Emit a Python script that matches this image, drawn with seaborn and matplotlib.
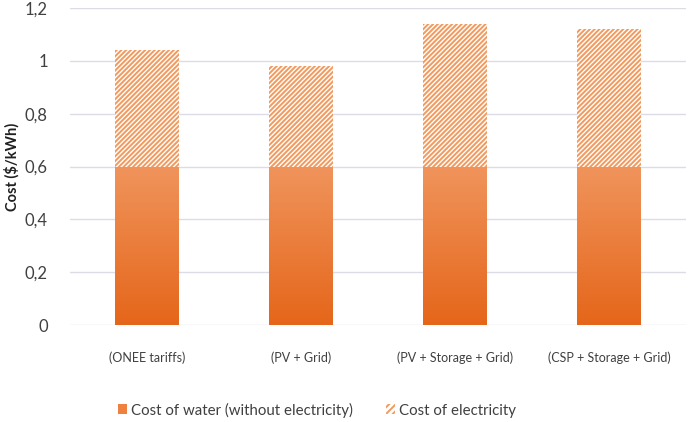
import matplotlib
matplotlib.use("Agg")
import matplotlib.pyplot as plt
import seaborn as sns
import numpy as np
import pandas as pd
from matplotlib.patches import Patch
from matplotlib.colors import LinearSegmentedColormap

categories = ["(ONEE tariffs)", "(PV + Grid)", "(PV + Storage + Grid)", "(CSP + Storage + Grid)"]
water_cost = [0.60, 0.60, 0.60, 0.60]
electricity_cost = [0.44, 0.38, 0.54, 0.52]
y_ticks = [0, 0.2, 0.4, 0.6, 0.8, 1.0, 1.2]
y_tick_labels = ["0", "0,2", "0,4", "0,6", "0,8", "1", "1,2"]

sns.set_theme(style="white")
plt.rcParams['font.family'] = ['Lato', 'DejaVu Sans']
plt.rcParams['hatch.linewidth'] = 1.4

df = pd.DataFrame({"cat": categories, "water": water_cost, "elec": electricity_cost})

fig = plt.figure(figsize=(6.89, 4.22), dpi=100)
ax = fig.add_axes([70/689, 1-325/422, 616/689, 317/422])

sns.barplot(data=df, x="cat", y="water", ax=ax, color="#EE8040", width=0.41,
            saturation=1, linewidth=0, zorder=2)
water_patches = list(ax.patches)

sns.barplot(data=df, x="cat", y="elec", ax=ax, bottom=df["water"], color="none",
            width=0.41, saturation=1, linewidth=0, zorder=2)
elec_patches = ax.patches[len(water_patches):]
for p in elec_patches:
    p.set_facecolor("white")
    p.set_edgecolor("#F29A5E")
    p.set_hatch("///////")
    p.set_linewidth(0)

# gradient overlay on water bars
cmap = LinearSegmentedColormap.from_list("g", ["#E5661A", "#F0945C"])
grad = np.linspace(0, 1, 256).reshape(-1, 1)
for p in water_patches:
    x0, y0 = p.get_x(), p.get_y()
    w, h = p.get_width(), p.get_height()
    im = ax.imshow(grad, extent=[x0, x0 + w, y0, y0 + h], origin="lower",
                   cmap=cmap, aspect="auto", zorder=2.5)
    im.set_clip_path(p)

ax.set_xlim(-0.5, 3.5)
ax.set_ylim(0, 1.2)
ax.set_yticks(y_ticks)
ax.set_yticklabels(y_tick_labels, fontsize=12, color="#404040")
ax.tick_params(axis="y", length=0, pad=16)
ax.tick_params(axis="x", length=0, pad=19, labelsize=9, labelcolor="#404040")
ax.set_xlabel("")
ax.set_ylabel("Cost ($/kWh)", fontsize=10.5, fontweight="bold", color="#202020", labelpad=4)
ax.grid(axis="y", color="#DCDCE6", linewidth=1, zorder=0)
ax.set_axisbelow(True)
for s in ax.spines.values():
    s.set_visible(False)

handles = [Patch(facecolor="#EE8040", edgecolor="none", label="Cost of water (without electricity)"),
           Patch(facecolor="white", edgecolor="#F29A5E", hatch="/////", linewidth=0, label="Cost of electricity")]
fig.legend(handles=handles, loc="center", bbox_to_anchor=(0.46, 1-410/422), ncol=2,
           frameon=False, fontsize=10.8, handlelength=0.6, handleheight=0.6,
           columnspacing=2.2, handletextpad=0.3, labelcolor="#404040")

fig.savefig("out.png", dpi=100)
